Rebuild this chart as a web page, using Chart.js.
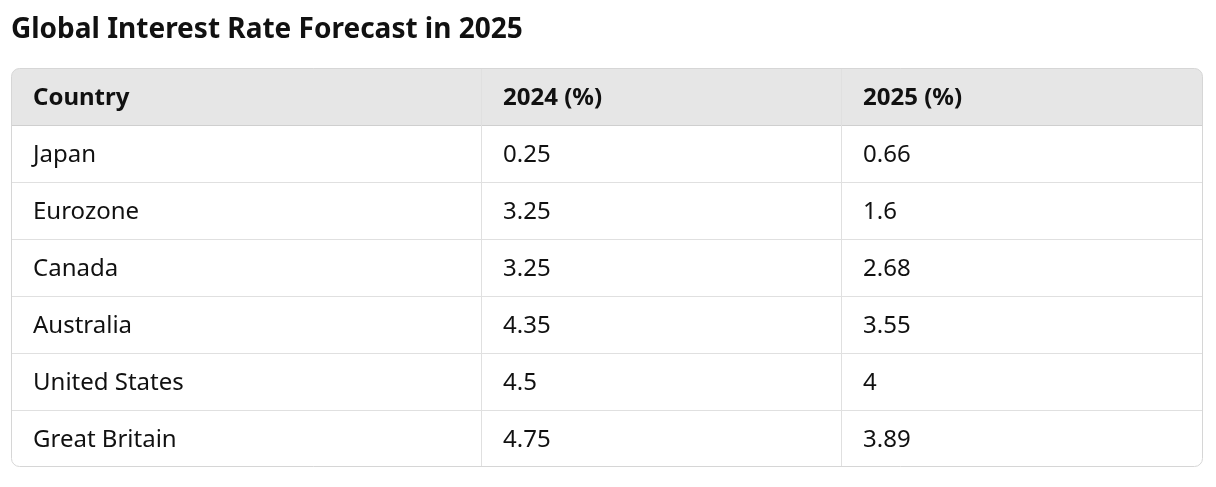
<!DOCTYPE html>
<html>
<head>
<meta charset="utf-8">
<script src="https://cdn.jsdelivr.net/npm/chart.js@4"></script>
<style>
  html, body { margin: 0; padding: 0; background: #fff; }
  #wrap { width: 1216px; height: 487px; position: relative; }
</style>
</head>
<body>
<div id="wrap"><canvas id="tabla"></canvas></div>
<script>
const headers = ['Country', '2024 (%)', '2025 (%)'];
const countries = ['Japan', 'Eurozone', 'Canada', 'Australia', 'United States', 'Great Britain'];
const rates2024 = ['0.25', '3.25', '3.25', '4.35', '4.5', '4.75'];
const rates2025 = ['0.66', '1.6', '2.68', '3.55', '4', '3.89'];

// column edges as a fraction of the table width
const colEdges = [0, 0.3943, 0.6963, 1];
const fontFam = '"Noto Sans", "Open Sans", sans-serif';

const tablePlugin = {
    id: 'tablePlugin',
    beforeDatasetsDraw(chart) {
        const ctx = chart.ctx;
        const xs = chart.scales.x, ys = chart.scales.y;
        const a = chart.chartArea;
        const band = (a.bottom - a.top) / ys.getLabels().length;
        const r = 8;

        function rounded() {
            ctx.beginPath();
            ctx.roundRect(a.left + 0.5, a.top + 0.5, a.right - a.left - 1, a.bottom - a.top - 1, r);
        }

        ctx.save();
        // header background
        rounded();
        ctx.clip();
        ctx.fillStyle = '#e6e6e6';
        ctx.fillRect(a.left, a.top, a.right - a.left, band);
        ctx.restore();

        ctx.save();
        // row lines
        ctx.lineWidth = 1;
        ys.getLabels().forEach((lab, i) => {
            if (i === 0) return;
            const y = Math.round(ys.getPixelForValue(i) - band / 2) + 0.5;
            ctx.strokeStyle = i === 1 ? '#cfcfcf' : '#e0e0e0';
            ctx.beginPath();
            ctx.moveTo(a.left, y);
            ctx.lineTo(a.right, y);
            ctx.stroke();
        });
        // column lines
        ctx.strokeStyle = '#e0e0e0';
        colEdges.slice(1, -1).forEach(f => {
            const x = Math.round(xs.getPixelForValue(f)) + 0.5;
            ctx.beginPath();
            ctx.moveTo(x, a.top);
            ctx.lineTo(x, a.bottom);
            ctx.stroke();
        });
        // outer border
        ctx.strokeStyle = '#d6d6d6';
        rounded();
        ctx.stroke();

        // cell text
        const rows = [headers].concat(countries.map((c, i) => [c, rates2024[i], rates2025[i]]));
        ctx.textBaseline = 'middle';
        ctx.textAlign = 'left';
        ctx.fillStyle = '#111';
        rows.forEach((row, i) => {
            const y = ys.getPixelForValue(i) + 2;
            ctx.font = (i === 0 ? 'bold ' : '') + '24px ' + fontFam;
            row.forEach((txt, j) => {
                ctx.fillText(txt, xs.getPixelForValue(colEdges[j]) + 22, y);
            });
        });
        ctx.restore();
    }
};

new Chart(document.getElementById('tabla'), {
    type: 'scatter',
    data: {
        datasets: [{
            label: 'cells',
            data: countries.map((c, i) => ({ x: 0, y: c })),
            pointRadius: 0
        }]
    },
    options: {
        responsive: true,
        maintainAspectRatio: false,
        animation: false,
        layout: { padding: { left: 11, right: 13, top: 0, bottom: 20 } },
        plugins: {
            legend: { display: false },
            tooltip: { enabled: false },
            title: {
                display: true,
                text: 'Global Interest Rate Forecast in 2025',
                align: 'start',
                color: '#111',
                font: { family: fontFam, size: 28, weight: 'bold', lineHeight: 1.2 },
                padding: { top: 13, bottom: 21.4 }
            }
        },
        scales: {
            x: { type: 'linear', min: 0, max: 1, display: false },
            y: { type: 'category', labels: headers.slice(0, 1).concat(countries), offset: true, display: false }
        }
    },
    plugins: [tablePlugin]
});
</script>
</body>
</html>
